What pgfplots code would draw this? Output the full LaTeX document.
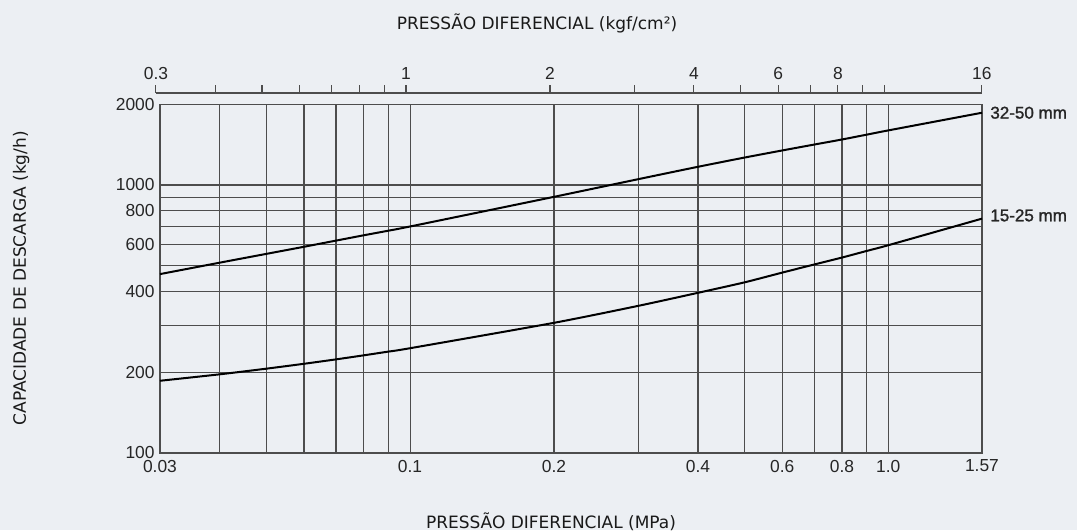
\documentclass[border=0pt]{standalone}
\usepackage{fontspec}
\setmainfont{Liberation Sans}
\newfontfamily\titlefont{DejaVu Sans}
\newfontfamily\lblfont[FakeBold=1.5]{Liberation Sans}
\usepackage{pgfplots}
\pgfplotsset{compat=1.18}
\definecolor{bgcol}{HTML}{ECEFF3}
\definecolor{gridcol}{HTML}{4D4D4D}
\begin{document}
\begin{tikzpicture}
\path[use as bounding box, fill=bgcol] (-80pt,-38.65pt) rectangle (458.5pt,226.5pt);
\begin{axis}[
  at={(0pt,0pt)}, anchor=south west, scale only axis,
  width=411pt, height=174.35pt,
  xmode=log, ymode=log,
  xmin=0.03, xmax=1.57, ymin=100, ymax=2000,
  xtick={0.03,0.1,0.2,0.4,0.6,0.8,1.0,1.57},
  xticklabels={0.03,0.1,0.2,0.4,0.6,0.8,1.0,1.57},
  minor xtick={0.04,0.05,0.06,0.07,0.08,0.09,0.3,0.5,0.7,0.9},
  ytick={100,200,400,600,800,1000,2000},
  yticklabels={100,200,400,600,800,1000,2000},
  minor ytick={300,500,700,900},
  grid=both,
  major grid style={draw=gridcol, line width=0.55pt},
  minor grid style={draw=gridcol, line width=0.55pt},
  major tick length=0pt, minor tick length=0pt,
  axis line style={draw=gridcol, line width=0.55pt},
  tick label style={font=\fontsize{8.7}{10}\selectfont, text=black!85},
  xticklabel style={anchor=north, inner sep=0pt, yshift=-3.3pt},
  yticklabel style={anchor=east, inner sep=0pt, xshift=-2.5pt},
  clip=false,
]
\addplot[black, line width=1pt, smooth, tension=0.4] coordinates {
 (0.03,465) (0.04,513) (0.05,553) (0.06,588) (0.07,620) (0.08,649) (0.09,675)
 (0.1,700) (0.2,903) (0.3,1051) (0.4,1169) (0.5,1265) (0.6,1345) (0.7,1415)
 (0.8,1478) (0.9,1540) (1.0,1598) (1.57,1860)
};
\addplot[black, line width=1pt, smooth, tension=0.4] coordinates {
 (0.03,186) (0.04,196.6) (0.05,206.3) (0.06,215.2) (0.07,223.5) (0.08,231.4) (0.09,238.9)
 (0.1,246) (0.2,306) (0.3,354) (0.4,396) (0.5,433) (0.6,471) (0.7,505)
 (0.8,536) (0.9,567) (1.0,596) (1.57,749)
};
\node[anchor=west, inner sep=0pt, xshift=4pt, font=\lblfont\fontsize{8.5}{10}\selectfont, text=black!85] at (axis cs:1.57,1860) {32-50 mm};
\node[anchor=west, inner sep=0pt, xshift=4pt, yshift=1.6pt, font=\lblfont\fontsize{8.5}{10}\selectfont, text=black!85] at (axis cs:1.57,749) {15-25 mm};
\end{axis}
\begin{axis}[
  at={(-2.03pt,180pt)}, anchor=north west, scale only axis,
  width=412.96pt, height=1pt,
  xmode=log, xmin=0.3, xmax=16, ymin=0, ymax=1,
  hide y axis, axis x line*=top,
  axis line style={draw=gridcol, line width=0.55pt, -},
  xtick={0.3,0.4,0.5,0.6,0.7,0.8,0.9,1,2,3,4,5,6,7,8,9,10,16},
  xticklabels={0.3,,,,,,,1,2,,4,,6,,8,,,16},
  minor xtick={},
  tick align=outside, major tick length=4pt,
  tick style={draw=gridcol, line width=0.55pt},
  xticklabel style={anchor=base, inner sep=0pt, yshift=2.6pt, font=\fontsize{8.7}{10}\selectfont, text=black!85},
]
\addplot[draw=none] coordinates {(1,0.5)};
\end{axis}
\node[anchor=base, font=\titlefont\fontsize{8.5}{10}\selectfont, text=black!90] at (188.5pt,211.7pt) {PRESSÃO DIFERENCIAL (kgf/cm²)};
\node[anchor=base, font=\titlefont\fontsize{8.5}{10}\selectfont, text=black!90] at (195.5pt,-37.8pt) {PRESSÃO DIFERENCIAL (MPa)};
\node[anchor=base, rotate=90, font=\titlefont\fontsize{8.5}{10}\selectfont, text=black!90] at (-67pt,87.35pt) {CAPACIDADE DE DESCARGA (kg/h)};
\end{tikzpicture}
\end{document}
